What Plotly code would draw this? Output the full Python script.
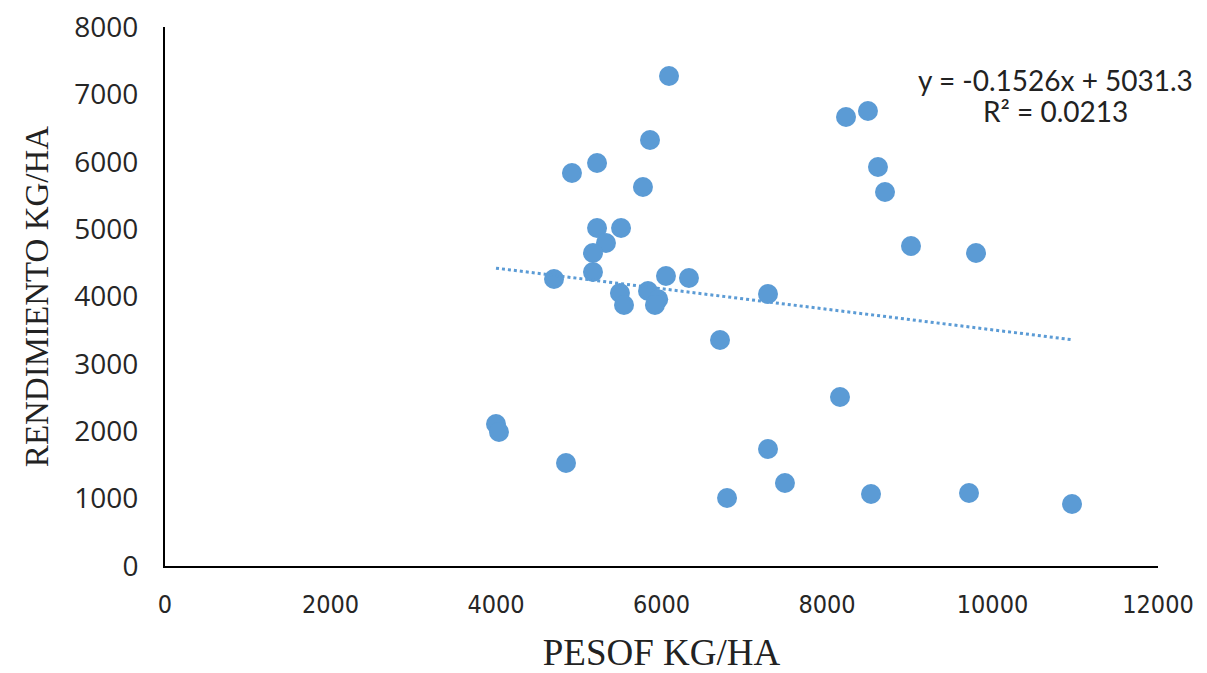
import plotly.graph_objects as go

# Data
pesof = [6091, 5861, 5221, 4918, 5776, 5221, 5511, 5329, 5172, 5172,
         4701, 6054, 6332, 5498, 5547, 5837, 5960, 5921, 6707,
         8230, 8495, 8616, 8701, 9015, 9801, 7287,
         4000, 4036, 4846, 7287, 7492, 6792, 8157, 8532, 9716, 10961]
rendimiento = [7273, 6323, 5981, 5833, 5625, 5017, 5017, 4794, 4646, 4364,
               4260, 4304, 4275, 4052, 3874, 4082, 3960, 3874, 3354,
               6664, 6753, 5922, 5551, 4750, 4646, 4037,
               2107, 1989, 1529, 1737, 1232, 1009, 2508, 1069, 1083, 920]

slope = -0.1526
intercept = 5031.3
r2 = 0.0213

x_ticks = [0, 2000, 4000, 6000, 8000, 10000, 12000]
y_ticks = [0, 1000, 2000, 3000, 4000, 5000, 6000, 7000, 8000]

color = "#5B9BD5"

xmin, xmax = min(pesof), max(pesof)
trend_x = [xmin, xmax]
trend_y = [slope * v + intercept for v in trend_x]

fig = go.Figure()
fig.add_trace(go.Scatter(
    x=pesof, y=rendimiento, mode="markers",
    marker=dict(size=20, color=color, line=dict(width=0)),
    showlegend=False, hoverinfo="x+y"))
fig.add_trace(go.Scatter(
    x=trend_x, y=trend_y, mode="lines",
    line=dict(color=color, width=3, dash="dot"),
    showlegend=False, hoverinfo="skip"))

# plot area on screen: x 165..1158, y 27..566 (page has 8px body margin)
def px_x(p):
    return (p - 165) / (1158 - 165)

def px_y(p):
    return (566 - p) / (566 - 27)

eq_font = dict(family="Lato, Open Sans, sans-serif", size=28, color="#222222")
fig.add_annotation(
    x=px_x(1055), y=px_y(80), xref="paper", yref="paper",
    xanchor="center", yanchor="middle",
    text=f"y = {slope}x + {intercept}", showarrow=False, font=eq_font)
fig.add_annotation(
    x=px_x(1055), y=px_y(111), xref="paper", yref="paper",
    xanchor="center", yanchor="middle",
    text=f"R² = {r2}", showarrow=False, font=eq_font)

fig.update_layout(
    width=1199, height=665,
    margin=dict(l=157, r=49, t=19, b=107),
    paper_bgcolor="white", plot_bgcolor="white",
    font=dict(family="Open Sans, Liberation Sans, sans-serif", color="#222222"),
    xaxis=dict(
        range=[0, 12000], tickvals=x_ticks, ticktext=[str(v) for v in x_ticks],
        showgrid=False, zeroline=False, showline=True, linecolor="black", linewidth=2,
        ticks="", ticklabelstandoff=15, automargin=False, ticklabeloverflow="allow",
        tickfont=dict(family="DejaVu Sans Condensed, Liberation Sans, sans-serif", size=25, color="#262626"),
        title=dict(text="PESOF KG/HA", standoff=26,
                   font=dict(family="Liberation Serif, Times New Roman, serif", size=37, color="#222222"))),
    yaxis=dict(
        range=[0, 8000], tickvals=y_ticks, ticktext=[str(v) for v in y_ticks],
        showgrid=False, zeroline=False, showline=True, linecolor="black", linewidth=2,
        ticks="", ticklabelstandoff=19, automargin=False, ticklabeloverflow="allow",
        tickfont=dict(family="Open Sans, Liberation Sans, sans-serif", size=28, color="#262626"),
        title=dict(text="RENDIMIENTO KG/HA", standoff=16,
                   font=dict(family="Liberation Serif, Times New Roman, serif", size=33, color="#222222"))),
)

fig.write_html("out.html")
